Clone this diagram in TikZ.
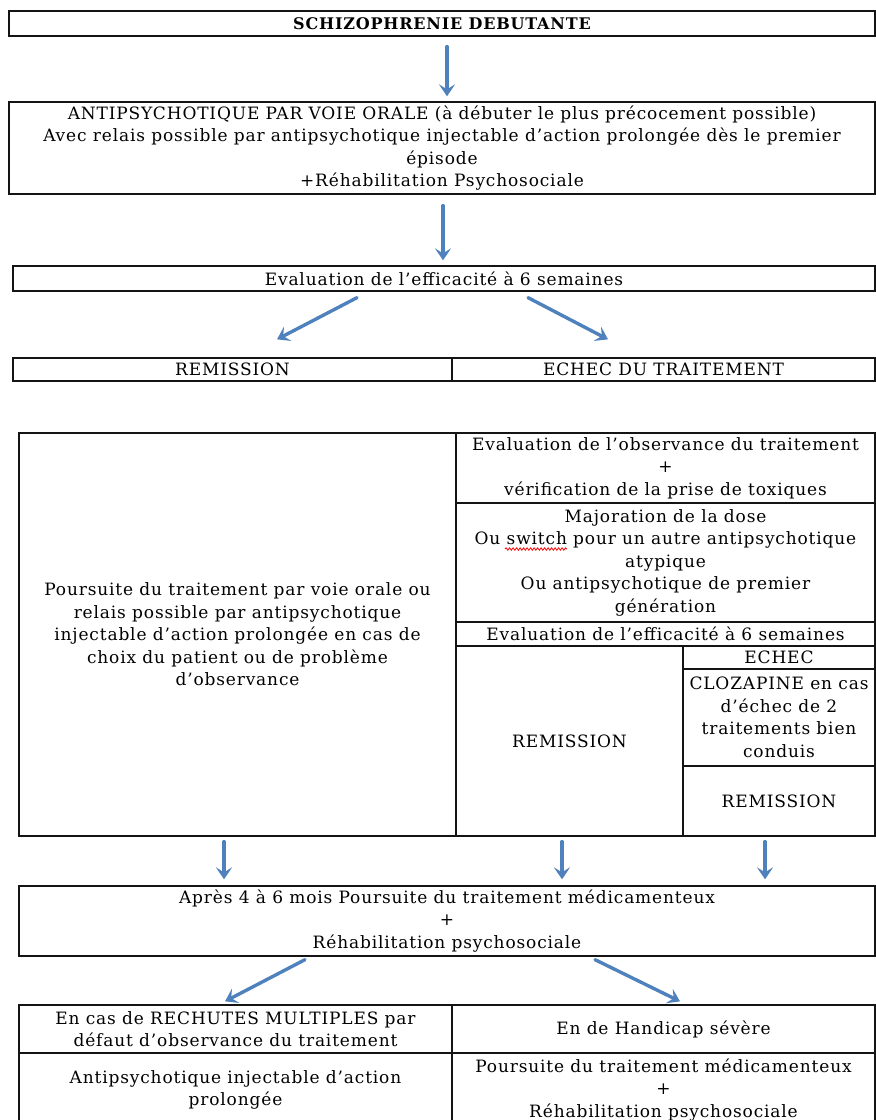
\documentclass[tikz,border=0pt]{standalone}
\usepackage{xcolor}
\usepackage{fontspec}
\usepackage{tikz}
\usetikzlibrary{arrows.meta, calc, decorations.pathmorphing}
\setmainfont{DejaVu Serif}[LetterSpace=5]
\definecolor{arrowblue}{RGB}{79,129,189}
\definecolor{celldark}{RGB}{20,20,20}
\tikzset{
  cell/.style={rectangle, draw=celldark, line width=1.3pt, inner sep=0pt,
    align=center, font=\fontsize{17}{22.5}\selectfont},
  arrow/.style={-{Stealth[length=12pt, width=16pt, inset=5pt]}, line width=3.4pt,
    color=arrowblue, line cap=round},
  spellwave/.style={red, line width=0.8pt, decorate,
    decoration={snake, amplitude=1.2pt, segment length=3.5pt}}
}

\begin{document}
\begin{tikzpicture}[x=1pt, y=-1pt]
  \useasboundingbox (0,0) rectangle (876,1120);
  \clip (0,0) rectangle (876,1120);
  % top of the chart
  \node[cell, minimum width=866, minimum height=25, font=\fontsize{16}{22}\selectfont\bfseries]
    (start) at (442,23.5) {SCHIZOPHRENIE DEBUTANTE};
  \node[cell, minimum width=866, minimum height=92] (oral) at (442,148)
    {ANTIPSYCHOTIQUE PAR VOIE ORALE (à débuter le plus précocement possible)\\
     Avec relais possible par antipsychotique injectable d’action prolongée dès le premier\\
     épisode\\
     +Réhabilitation Psychosociale};
  \node[cell, minimum width=862, minimum height=25] (eval) at (444,278.5)
    {Evaluation de l’efficacité à 6 semaines};
  \node[cell, minimum width=439, minimum height=23] (rem) at (232.5,369.5) {REMISSION};
  \node[cell, minimum width=423, minimum height=23] (echec) at (663.5,369.5) {ECHEC DU TRAITEMENT};
  % middle table
  \node[cell, minimum width=437, minimum height=403] (suite) at (237.5,634.5)
    {Poursuite du traitement par voie orale ou\\
     relais possible par antipsychotique\\
     injectable d’action prolongée en cas de\\
     choix du patient ou de problème\\
     d’observance};
  \node[cell, minimum width=419, minimum height=70] (obs) at (665.5,468)
    {Evaluation de l’observance du traitement\\ +\\ vérification de la prise de toxiques};
  \node[cell, minimum width=419, minimum height=119] (dose) at (665.5,562.5)
    {Majoration de la dose\\
     Ou switch pour un autre antipsychotique\\
     atypique\\
     Ou antipsychotique de premier\\
     génération};
  \node[cell, minimum width=419, minimum height=24] (eval2) at (665.5,634)
    {Evaluation de l’efficacité à 6 semaines};
  \node[cell, minimum width=227, minimum height=190] (rem2) at (569.5,741) {REMISSION};
  \node[cell, minimum width=192, minimum height=23] (echec2) at (779,657.5) {ECHEC};
  \node[cell, minimum width=192, minimum height=97] (cloza) at (779,717.5)
    {CLOZAPINE en cas\\ d’échec de 2\\ traitements bien\\ conduis};
  \node[cell, minimum width=192, minimum height=70] (rem3) at (779,801) {REMISSION};
  % after 4 to 6 months
  \node[cell, minimum width=856, minimum height=70] (after) at (447,921)
    {Après 4 à 6 mois Poursuite du traitement médicamenteux\\ +\\ Réhabilitation psychosociale};
  % bottom table
  \node[cell, minimum width=433, minimum height=48] (rechute) at (235.5,1029)
    {En cas de RECHUTES MULTIPLES par\\ défaut d’observance du traitement};
  \node[cell, minimum width=423, minimum height=48] (handicap) at (663.5,1029)
    {En de Handicap sévère};
  \node[cell, minimum width=433, minimum height=74] (inject) at (235.5,1090)
    {Antipsychotique injectable d’action\\ prolongée};
  \node[cell, minimum width=423, minimum height=74] (poursuite) at (663.5,1090)
    {Poursuite du traitement médicamenteux\\ +\\ Réhabilitation psychosociale};
  % spell-check wave under "switch"
  \draw[spellwave] (505,549) -- (567,549);
  % arrows
  \draw[arrow] ($(start.south)+(5,10)$) -- ($(oral.north)+(5,-5)$);
  \draw[arrow] ($(oral.south)+(1,11)$) -- ($(eval.north)+(-1,-5)$);
  \draw[arrow] ($(eval.south)+(-87,6)$) -- ($(rem.north)+(44.5,-18)$);
  \draw[arrow] ($(eval.south)+(84,6)$) -- ($(echec.north)+(-55.5,-18)$);
  \draw[arrow] ($(suite.south)+(-13.5,5)$) -- ($(after.north)+(-223,-6)$);
  \draw[arrow] ($(rem2.south)+(-7.5,5)$) -- ($(after.north)+(115,-6)$);
  \draw[arrow] ($(rem3.south)+(-14,5)$) -- ($(after.north)+(318,-6)$);
  \draw[arrow] ($(after.south)+(-142,3)$) -- ($(rechute.north)+(-10.5,-3)$);
  \draw[arrow] ($(after.south)+(148,3)$) -- ($(handicap.north)+(16.5,-3)$);
\end{tikzpicture}
\end{document}
